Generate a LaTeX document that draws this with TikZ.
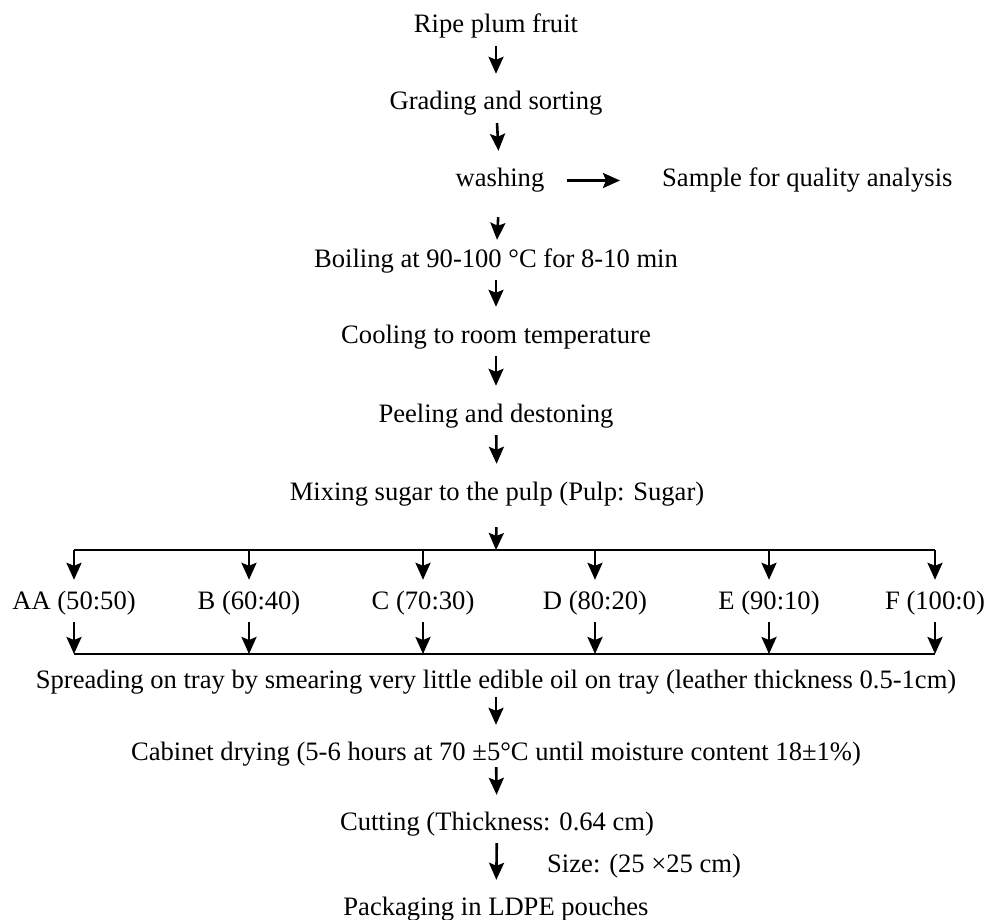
\documentclass[tikz,border=0pt]{standalone}
\usepackage{fontspec}
\setmainfont{Liberation Serif}
\usetikzlibrary{arrows.meta}
\tikzset{
  stage/.style = {anchor = base, inner sep = 0pt, text height = 19pt, text depth = 6pt},
  flow/.style = {-{Stealth[length = 17pt, width = 15pt, inset = 3pt]}, line width = 2.6pt},
  flowdown/.style = {flow, shorten <= 7pt, shorten >= 17pt},
  bar/.style = {line width = 2.8pt}
}
\begin{document}
\begin{tikzpicture}[x = 1pt, y = -1pt, font = \fontsize{26.6}{30}\selectfont]
  \useasboundingbox (0,0) rectangle (990,920);
  \node [stage] (ripe) at (496,33) {Ripe plum fruit};
  \node [stage] (grade) at (496,110) {Grading and sorting};
  \node [stage] (wash) at (500,187) {washing};
  \node [stage, anchor = base west] (sample) at (662,187) {Sample for quality analysis};
  \node [stage] (boil) at (496,267) {Boiling at 90-100 °C for 8-10 min};
  \node [stage] (cool) at (496,343) {Cooling to room temperature};
  \node [stage] (peel) at (496,422) {Peeling and destoning};
  \node [stage] (mix) at (497,500) {Mixing sugar to the pulp (Pulp: Sugar)};
  \coordinate (split) at (496,550);
  \node [stage] (aa) at (74,609) {AA (50:50)};
  \node [stage] (b) at (249,609) {B (60:40)};
  \node [stage] (c) at (423,609) {C (70:30)};
  \node [stage] (d) at (595,609) {D (80:20)};
  \node [stage] (e) at (769,609) {E (90:10)};
  \node [stage] (f) at (935,609) {F (100:0)};
  \coordinate (merge) at (496,654);
  \node [stage] (spread) at (496,688)
    {Spreading on tray by smearing very little edible oil on tray (leather thickness 0.5-1cm)};
  \node [stage] (dry) at (496,760)
    {Cabinet drying (5-6 hours at 70 ±5°C until moisture content 18±1\%)};
  \node [stage] (cut) at (497,830) {Cutting (Thickness: 0.64 cm)};
  \node [stage, anchor = base west] (size) at (547,872) {Size: (25 ×25 cm)};
  \node [stage] (pack) at (496,915) {Packaging in LDPE pouches};

  \draw [flowdown] (ripe) -- (grade);
  \draw [flowdown] (grade) -- (wash);
  \draw [flow, shorten <= 22pt, shorten >= 42pt] (wash.east) -- (sample.west);
  \draw [flow, shorten <= 24pt, shorten >= 8pt] (wash) -- (boil);
  \draw [flowdown] (boil) -- (cool);
  \draw [flowdown] (cool) -- (peel);
  \draw [flowdown] (peel) -- (mix);
  \draw [flow, shorten <= 21pt] (mix) -- (split);
  \draw [bar] (aa.north |- split) -- (f.north |- split);
  \draw [flow, shorten >= 10pt] (aa.north |- split) -- (aa.north);
  \draw [flow, shorten >= 10pt] (b.north |- split) -- (b.north);
  \draw [flow, shorten >= 10pt] (c.north |- split) -- (c.north);
  \draw [flow, shorten >= 10pt] (d.north |- split) -- (d.north);
  \draw [flow, shorten >= 10pt] (e.north |- split) -- (e.north);
  \draw [flow, shorten >= 10pt] (f.north |- split) -- (f.north);
  \draw [flow, shorten <= 7pt] (aa.south) -- (aa.south |- merge);
  \draw [flow, shorten <= 7pt] (b.south) -- (b.south |- merge);
  \draw [flow, shorten <= 7pt] (c.south) -- (c.south |- merge);
  \draw [flow, shorten <= 7pt] (d.south) -- (d.south |- merge);
  \draw [flow, shorten <= 7pt] (e.south) -- (e.south |- merge);
  \draw [flow, shorten <= 7pt] (f.south) -- (f.south |- merge);
  \draw [bar] (aa.south |- merge) -- (f.south |- merge);
  \draw [flow, shorten <= 3pt, shorten >= 16pt] (spread) -- (dry);
  \draw [flow, shorten <= 1pt, shorten >= 16pt] (dry) -- (cut);
  \draw [flow, shorten <= 7pt, shorten >= 16pt] (cut) -- (pack);
\end{tikzpicture}
\end{document}
